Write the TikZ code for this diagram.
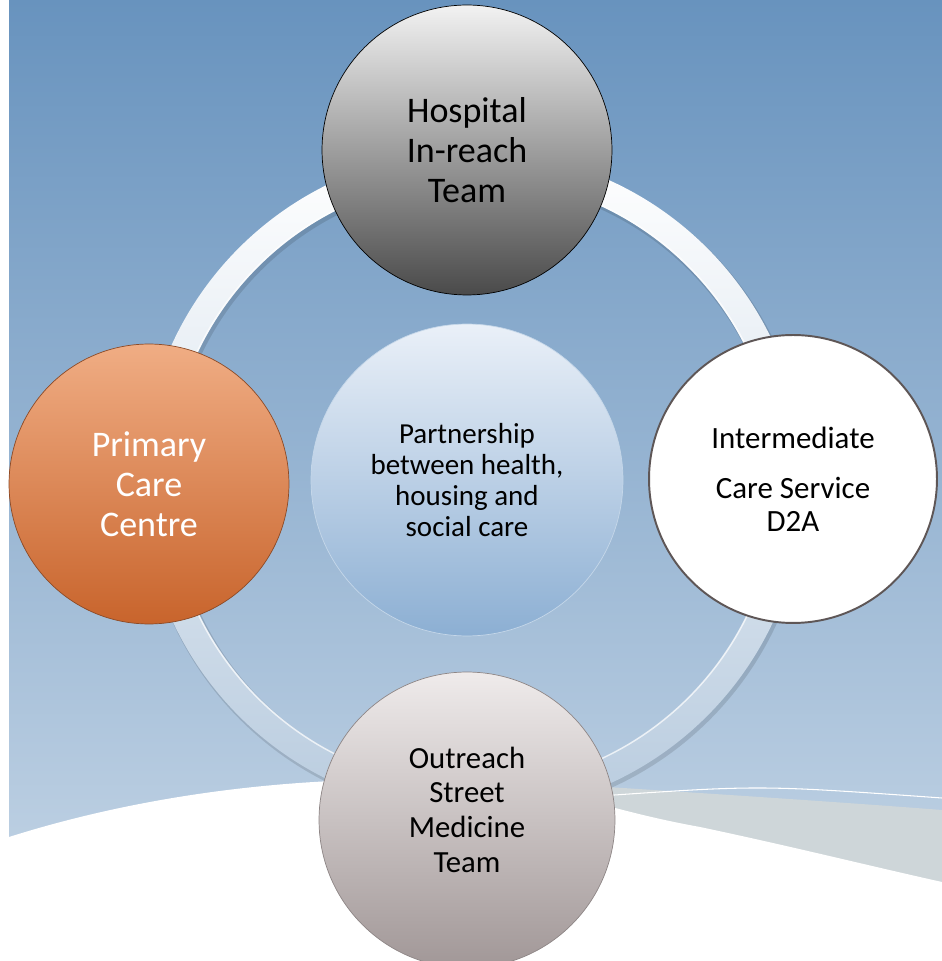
\documentclass[tikz,border=0pt]{standalone}
\usepackage{fontspec}
\setmainfont{Carlito}
\usepackage{tikz}
\usetikzlibrary{positioning}
\definecolor{bgtop}{HTML}{6893BE}
\definecolor{bgbot}{HTML}{C7D7E7}
\definecolor{wavegrey}{HTML}{CED6D9}
\definecolor{ringbot}{HTML}{B9CCDF}
\definecolor{hubtop}{HTML}{EAF0F8}
\definecolor{hubbot}{HTML}{8CAFD3}
\definecolor{hosptop}{HTML}{F2F2F2}
\definecolor{hospbot}{HTML}{4A4A4A}
\definecolor{primtop}{HTML}{F0AD84}
\definecolor{primbot}{HTML}{C8642C}
\definecolor{primedge}{HTML}{8C4A26}
\definecolor{outtop}{HTML}{EFEBEB}
\definecolor{outbot}{HTML}{A19797}
\definecolor{outedge}{HTML}{8E8686}
\definecolor{intedge}{HTML}{5E5656}

\begin{document}
\begin{tikzpicture}[
  x=0.02cm, y=0.02cm,
  bubble/.style={circle, inner sep=0pt, align=center},
  hubnode/.style={bubble, minimum size=6.24cm, top color=hubtop, bottom color=hubbot, draw=hubbot!50!white, font=\fontsize{16.5}{17.6}\selectfont},
  hospnode/.style={bubble, minimum size=5.8cm, top color=hosptop, bottom color=hospbot, draw=black, font=\fontsize{20.5}{22.7}\selectfont},
  primnode/.style={bubble, minimum size=5.6cm, top color=primtop, bottom color=primbot, draw=primedge, text=white, font=\fontsize{20.5}{22.7}\selectfont},
  intnode/.style={bubble, minimum size=5.76cm, fill=white, draw=intedge, line width=1.1pt, font=\fontsize{17.6}{18.7}\selectfont},
  outnode/.style={bubble, minimum size=5.92cm, top color=outtop, bottom color=outbot, draw=outedge, font=\fontsize{17.5}{19.8}\selectfont}
]
\useasboundingbox (0,0) rectangle (942,961);
% background and wave
\shade[top color=bgtop, bottom color=bgbot] (9,0) rectangle (942,961);
\fill[wavegrey] (470,183) .. controls (620,173) and (800,162) .. (942,151) -- (942,0) -- (470,0) -- cycle;
\fill[white] (0,124) -- (9,124) .. controls (180,178) and (350,186) .. (470,180) .. controls (560,175) and (600,152) .. (700,134) .. controls (790,115) and (870,95) .. (942,79) -- (942,0) -- (0,0) -- cycle;
\draw[white, line width=0.6pt] (600,165) .. controls (760,176) .. (942,163);
% ring
\fill[black, opacity=.12, even odd rule] (475,476) circle (332) (475,476) circle (303);
\shade[top color=white, bottom color=ringbot, even odd rule] (473,479) circle (331) (473,479) circle (304);
\draw[white, opacity=.7, line width=0.8pt] (473,479) circle (305);
% nodes
\node[hubnode] (hub) at (467,481) {Partnership\\between health,\\housing and\\social care};
\node[hospnode] (hosp) at (467,811) {Hospital\\In-reach\\Team};
\node[intnode] (inter) at (793,482) {Intermediate\\[9.7pt]Care Service\\D2A};
\node[outnode] (outr) at (467,141) {Outreach\\Street\\Medicine\\Team\\[-8pt]};
\node[primnode] (prim) at (149,477) {Primary\\Care\\Centre};
\end{tikzpicture}
\end{document}
